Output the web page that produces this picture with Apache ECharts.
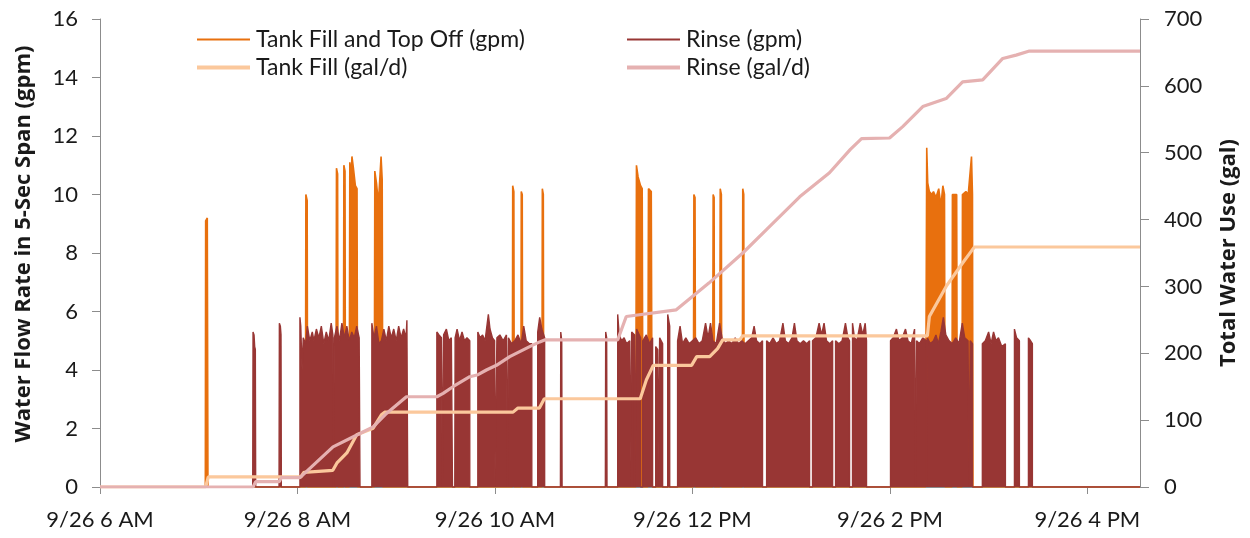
<!DOCTYPE html>
<html>
<head>
<meta charset="utf-8">
<title>Water flow and total water use, 9/26</title>
<script src="https://cdn.jsdelivr.net/npm/echarts@6/dist/echarts.min.js"></script>
<style>
  html, body { margin: 0; padding: 0; background: #ffffff; }
  #chart { width: 1250px; height: 538px; }
</style>
</head>
<body>
<div id="chart"></div>
<script>
// Time is in minutes after midnight on 9/26.
const xTickValues = [360, 480, 600, 720, 840, 960];
const xTickLabels = ['9/26 6 AM', '9/26 8 AM', '9/26 10 AM', '9/26 12 PM', '9/26 2 PM', '9/26 4 PM'];

const seriesNames = ['Tank Fill and Top Off (gpm)', 'Rinse (gpm)', 'Tank Fill (gal/d)', 'Rinse (gal/d)'];

// Tank fill and top off, flow rate [minute, gpm]
const tankFillGpm = [
  [360,0],
  [424,0],[424.2,9.1],[425.2,9.2],[425.6,0],
  [484.8,0],[485.1,10.0],[485.9,9.8],[486.2,0],
  [503.3,0],[503.7,10.9],[504.4,10.7],[504.7,0],
  [507.8,0],[508.2,11.0],[508.9,10.8],[509.2,0],
  [511.4,0],[511.8,11.1],[512.6,10.6],[513.1,11.3],[514,10.9],[515.2,10.3],[516.2,10.2],[516.6,0],
  [526.6,0],[527,10.8],[528,10.4],[529.2,9.7],[530.8,11.3],[531.5,10.5],[531.9,0],
  [610.5,0],[610.8,10.3],[611.5,10.1],[611.8,0],
  [615.7,0],[616,10.1],[616.6,10.0],[616.9,0],
  [628.5,0],[628.8,10.2],[629.4,10.0],[629.7,0],
  [685.5,0],[686,11.0],[687,10.6],[688.5,10.3],[689.5,10.2],[690,0],
  [692.8,0],[693.3,10.2],[695,10.1],[695.6,0],
  [720.5,0],[720.9,10.0],[721.6,9.9],[722,0],
  [732.2,0],[732.6,10.0],[733.2,9.9],[733.5,0],
  [736.5,0],[736.9,10.2],[737.6,10.0],[737.9,0],
  [750.2,0],[750.6,10.2],[751.2,10.0],[751.5,0],
  [861.6,0],[862.4,11.6],[863,10.4],[864,10.1],[865.5,10.0],[866.5,10.1],[868,9.9],[869.7,10.2],[871,9.6],[872.2,10.3],[873.2,10.0],[873.6,0],
  [877.7,0],[878,10.0],[880.6,10.0],[881,0],
  [883.8,0],[884.1,10.0],[886.2,10.1],[887.6,10.0],[889.6,11.3],[890.2,10.0],[890.5,0],
  [992,0]
];

// Rinse, flow rate [minute, gpm]
const rinseGpm = [
  [360,0],
  [452.8,0],[453,5.3],[453.6,5.2],[454,4.8],[454.4,4.7],[454.6,0],
  [468.8,0],[469,5.6],[469.6,5.5],[470,5.2],[470.2,0],
  [481.5,0],[481.5,5.8],[482,5.5],[482.8,4.0],[483.5,5.1],[485,4.9],[486,5.5],[487.5,5.0],[489,5.3],[490,5.0],[491.5,5.4],[493,5.1],[494.5,5.5],[496,4.9],[497.5,5.3],[499,5.0],[500.5,5.6],[501.5,5.2],[501.8,0],[502.2,0],[502.4,5.1],[504,5.5],[505.5,5.0],[507,5.6],[508.5,5.1],[510,5.5],[511.5,5.0],[513,5.3],[514.5,5.1],[516,5.5],[517.5,5.1],[518,0],
  [525.2,0],[525.2,5.6],[526.5,5.1],[528,5.5],[529.5,4.9],[531,5.0],[532.5,5.4],[534,5.0],[535.5,5.5],[537,5.1],[538.5,5.4],[540,5.0],[541.5,5.5],[543,5.1],[544.5,5.4],[546,5.1],[546.5,5.7],[547,0],
  [564.7,0],[564.7,5.3],[566,5.2],[567.5,5.1],[568,0],[568.6,0],[568.8,5.2],[570.5,5.4],[572,5.0],[573.5,5.1],[574.2,0],[575.6,0],[575.8,5.1],[577,5.4],[578.5,5.0],[580,5.3],[581.5,5.0],[583,5.1],[584.7,5.0],[584.7,0],
  [589.6,0],[589.6,5.3],[591,5.1],[592.5,5.2],[594,5.0],[596,5.9],[597,5.4],[598.5,5.1],[599.8,5.0],[599.9,0],[601.1,0],[601.2,5.1],[603,5.2],[605,5.0],[607,5.2],[607.6,0],[608,0],[608.2,5.1],[610,4.9],[612,5.0],[614,5.2],[616,4.9],[617.5,5.5],[619,5.0],[621,4.9],[622.4,4.9],[622.4,0],
  [626,0],[626,5.3],[627.2,5.8],[628.5,5.4],[630.2,5.1],[630.2,0],
  [639.8,0],[640,5.3],[640.6,5.0],[640.8,0],
  [667.1,0],[667.3,5.3],[667.9,5.1],[668.1,0],
  [674.6,0],[674.6,5.9],[675.5,5.2],[677,5.0],[678.5,5.1],[680,4.9],[681.9,5.0],[681.9,0],
  [683.1,0],[683.1,5.3],[684.9,5.2],[684.9,0],
  [686.1,0],[686.1,5.4],[688.5,5.1],[688.5,0],
  [689.8,0],[689.8,5.0],[692,5.2],[694,4.9],[695.8,5.1],[695.8,0],
  [697.7,0],[697.7,4.8],[698.9,4.7],[698.9,0],
  [700.1,0],[700.1,5.1],[701.9,4.9],[701.9,0],
  [705,0],[705,5.9],[706.2,5.5],[706.2,0],
  [711,0],[711,5.0],[712.5,5.5],[714,4.9],[716,5.1],[718,4.9],[720,5.0],[722,5.1],[724,4.9],[726,5.0],[728,5.6],[729.5,5.1],[731,5.6],[732.5,5.0],[734.5,4.9],[736.5,5.6],[738,5.1],[740,4.9],[742,5.0],[744,4.9],[746,5.1],[748,4.9],[750,5.0],[752,4.9],[754,5.0],[756,5.1],[757.5,5.5],[759,5.0],[761,4.9],[762.6,5.0],[762.6,0],
  [765.1,0],[765.1,5.0],[767,4.9],[769,5.1],[771,4.9],[773,5.0],[775,5.6],[776.5,5.0],[778.5,4.9],[780.5,5.1],[782,5.6],[783.5,5.0],[785.5,4.9],[787.5,5.0],[789.5,4.9],[791.2,5.0],[791.2,0],
  [793,0],[793,5.0],[795,5.1],[797,5.6],[798.5,5.2],[800,5.6],[801.5,5.0],[803.5,4.9],[805.2,5.0],[805.2,0],
  [807,0],[807,5.0],[809,4.9],[811,5.0],[813,5.6],[814.5,5.1],[815.5,5.0],[815.5,0],
  [817.3,0],[817.3,5.6],[818.5,5.1],[820,5.0],[822,5.6],[823.5,5.2],[825,5.6],[825.8,5.0],[825.8,0],
  [840.4,0],[840.4,5.0],[842,5.1],[844,5.4],[845.5,5.0],[847.5,5.1],[849.5,5.4],[851,5.0],[853,4.9],[855,5.4],[855.5,0],[856,0],[856.2,5.0],[858,4.9],[860,5.1],[862.2,5.0],[862.2,0],
  [862.8,0],[862.8,5.1],[864.5,4.9],[866.5,5.0],[868,5.2],[869.5,4.9],[871,5.3],[872.5,5.8],[874,5.2],[876,5.0],[878,4.9],[880,5.1],[882,4.9],[884,5.6],[885.5,5.1],[887.5,5.0],[888.2,0],[888.7,0],[888.8,5.0],[890.2,4.9],[890.2,0],
  [896.2,0],[896.2,4.9],[898,5.0],[900,5.3],[901.5,4.9],[903,5.3],[904.5,5.0],[906,5.1],[908,4.8],[910.2,4.9],[910.2,0],
  [915.7,0],[915.7,5.4],[917,5.1],[918.7,5.0],[918.7,0],
  [924.2,0],[924.2,5.1],[925.5,5.0],[926.6,4.9],[926.6,0],
  [992,0]
];

// Running totals [minute, gallons]
const tankFillGal = [
  [360,0],[424.2,0],[425.8,15],[482,15],[484,22],[501.5,25],[504,36],[510,51],[516,78],[518,80],
  [526,88],[531,108],[533,112],[611,112],[614,118],[627,118],[630,132],
  [688.3,132],[692,160],[696.2,182],[719.5,182],[722.6,195],[730.5,195],[735.3,207],[738.4,220],
  [748.7,220],[750.5,226],[862.8,226],[864,255],[874.2,300],[884.2,335],[889.3,352],[891.4,359],[992,359]
];

const rinseGal = [
  [360,0],[453,0],[454.6,8],[469,8],[470.2,14],[481.5,14],[482.4,15],[501.6,60],[517.9,80],[526,90],
  [534.1,110],[546.2,135],[564.7,135],[568.5,140],[574.5,150],[584.7,165],[589.7,168],[594.8,175],
  [600.9,182],[609,195],[621.1,210],[627.2,217],[630.2,220],[674.6,220],[679.8,255],[710.2,265],
  [730,305],[750.6,350],[765,385],[785.2,434],[803.3,470],[816,505],[822.8,521],[839.8,522],
  [847.8,539],[860,569],[874.2,581],[884.2,606],[896.4,609],[908.6,641],[916.7,646],[924.8,652],[992,652]
];

const colors = ['#E8700E', '#983634', '#FBC89C', '#E5B1B1'];
const font = 'Lato, "Open Sans", sans-serif';
const titleFont = '"Open Sans", "Noto Sans", sans-serif';
const axisGray = '#8C8C8C';
const textColor = '#1a1a1a';

const chart = echarts.init(document.getElementById('chart'), null, { renderer: 'canvas' });

function legendAt(name, left, top, thick) {
  return {
    data: [name],
    left: left,
    top: top,
    icon: 'rect',
    itemWidth: 53,
    itemHeight: thick,
    itemGap: 0,
    selectedMode: false,
    textStyle: { fontFamily: font, fontSize: 23, color: textColor, padding: [0, 0, 0, 1] }
  };
}

chart.setOption({
  animation: false,
  backgroundColor: '#ffffff',
  textStyle: { fontFamily: font },
  grid: { left: 100, right: 110, top: 19, bottom: 51 },
  legend: [
    legendAt(seriesNames[0], 192, 23, 2),
    legendAt(seriesNames[1], 622, 23, 2),
    legendAt(seriesNames[2], 192, 51, 4),
    legendAt(seriesNames[3], 622, 51, 4)
  ],
  xAxis: {
    type: 'value',
    min: 360,
    max: 992,
    interval: 120,
    axisLine: { show: true, lineStyle: { color: axisGray, width: 1 } },
    axisTick: { show: true, length: 7, lineStyle: { color: axisGray } },
    splitLine: { show: false },
    axisLabel: {
      showMaxLabel: false,
      margin: 22,
      fontFamily: font,
      fontSize: 22,
      color: textColor,
      formatter: function (v) {
        const i = xTickValues.indexOf(v);
        return i >= 0 ? xTickLabels[i] : '';
      }
    }
  },
  yAxis: [
    {
      type: 'value',
      min: 0,
      max: 16,
      interval: 2,
      position: 'left',
      name: 'Water Flow Rate in 5-Sec Span (gpm)',
      nameLocation: 'middle',
      nameGap: 65,
      nameTextStyle: { fontFamily: titleFont, fontSize: 22, fontWeight: 'bold', color: textColor, padding: [0, 0, 0, 18] },
      axisLine: { show: true, lineStyle: { color: axisGray } },
      axisTick: { show: true, length: 8, lineStyle: { color: axisGray } },
      splitLine: { show: false },
      axisLabel: { margin: 22, fontFamily: font, fontSize: 22, color: textColor }
    },
    {
      type: 'value',
      min: 0,
      max: 700,
      interval: 100,
      position: 'right',
      name: 'Total Water Use (gal)',
      nameLocation: 'middle',
      nameGap: 78,
      nameRotate: 90,
      nameTextStyle: { fontFamily: titleFont, fontSize: 22, fontWeight: 'bold', color: textColor },
      axisLine: { show: true, lineStyle: { color: axisGray } },
      axisTick: { show: true, length: 9, lineStyle: { color: axisGray } },
      splitLine: { show: false },
      axisLabel: { margin: 24, fontFamily: font, fontSize: 22, color: textColor }
    }
  ],
  series: [
    {
      name: seriesNames[0],
      type: 'line',
      yAxisIndex: 0,
      data: tankFillGpm,
      showSymbol: false,
      color: colors[0],
      lineStyle: { color: colors[0], width: 1.6 },
      areaStyle: { color: colors[0], opacity: 1 },
      emphasis: { disabled: true },
      z: 2
    },
    {
      name: seriesNames[1],
      type: 'line',
      yAxisIndex: 0,
      data: rinseGpm,
      showSymbol: false,
      color: colors[1],
      lineStyle: { color: colors[1], width: 1.4 },
      areaStyle: { color: colors[1], opacity: 1 },
      emphasis: { disabled: true },
      z: 3
    },
    {
      name: seriesNames[2],
      type: 'line',
      yAxisIndex: 1,
      data: tankFillGal,
      showSymbol: false,
      color: colors[2],
      lineStyle: { color: colors[2], width: 3.2 },
      emphasis: { disabled: true },
      z: 4
    },
    {
      name: seriesNames[3],
      type: 'line',
      yAxisIndex: 1,
      data: rinseGal,
      showSymbol: false,
      color: colors[3],
      lineStyle: { color: colors[3], width: 3.2 },
      emphasis: { disabled: true },
      z: 5
    }
  ]
});
</script>
</body>
</html>
